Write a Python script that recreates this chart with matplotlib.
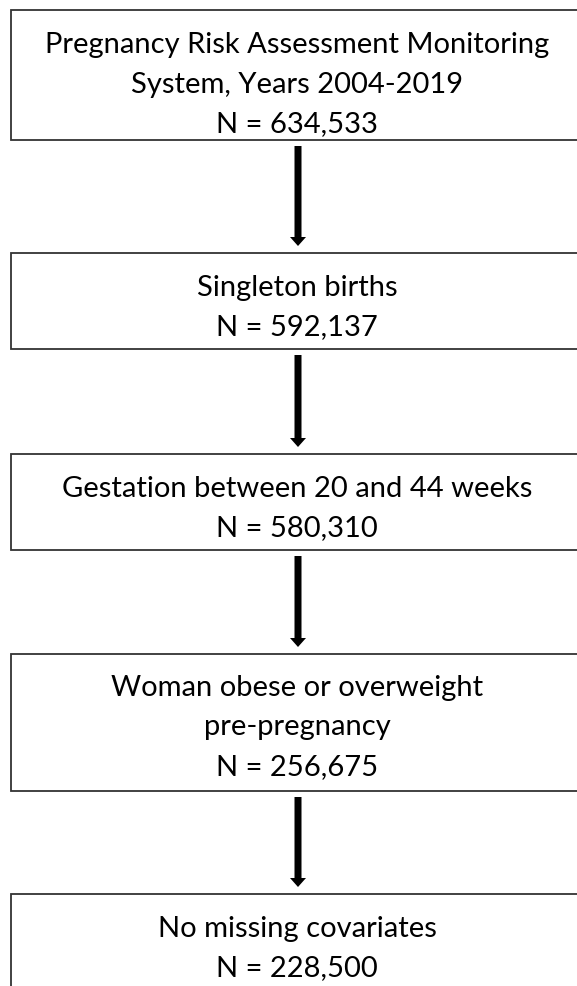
import matplotlib
matplotlib.use("Agg")
import matplotlib.pyplot as plt
from matplotlib.patches import Rectangle, FancyArrow

# flowchart steps (text) and sample sizes
step_labels = [
    ["Pregnancy Risk Assessment Monitoring", "System, Years 2004-2019"],
    ["Singleton births"],
    ["Gestation between 20 and 44 weeks"],
    ["Woman obese or overweight", "pre-pregnancy"],
    ["No missing covariates"],
]
step_counts = [634533, 592137, 580310, 256675, 228500]

# layout in pixel units (y grows downward)
W, H = 577, 987
box_left, box_right = 11, 584
box_tops = [11, 254, 455, 655, 895]
box_bottoms = [141, 350, 551, 792, 1010]
first_baseline = [53, 296, 497, 696, 937]
line_gap = 39.5
text_x = 297
arrow_x = 298

fig = plt.figure(figsize=(W / 100, H / 100), dpi=100)
ax = fig.add_axes([0, 0, 1, 1])
ax.set_xlim(0, W)
ax.set_ylim(H, 0)
ax.axis("off")

for i, (lines, n) in enumerate(zip(step_labels, step_counts)):
    top, bottom = box_tops[i], box_bottoms[i]
    ax.add_patch(Rectangle((box_left, top), box_right - box_left, bottom - top,
                           facecolor="white", edgecolor="#333333", linewidth=1.3))
    all_lines = lines + [f"N = {n:,}"]
    for j, txt in enumerate(all_lines):
        ax.text(text_x, first_baseline[i] + j * line_gap, txt, ha="center",
                va="baseline", fontsize=21, family="Lato", color="black")

    # arrow to the next box
    if i < len(step_counts) - 1:
        y0 = bottom + 6
        y1 = box_tops[i + 1] - 7
        ax.add_patch(FancyArrow(arrow_x, y0, 0, y1 - y0, width=7, head_width=16,
                                head_length=9, length_includes_head=True,
                                color="black", linewidth=0))

fig.savefig("out.png", dpi=100)
